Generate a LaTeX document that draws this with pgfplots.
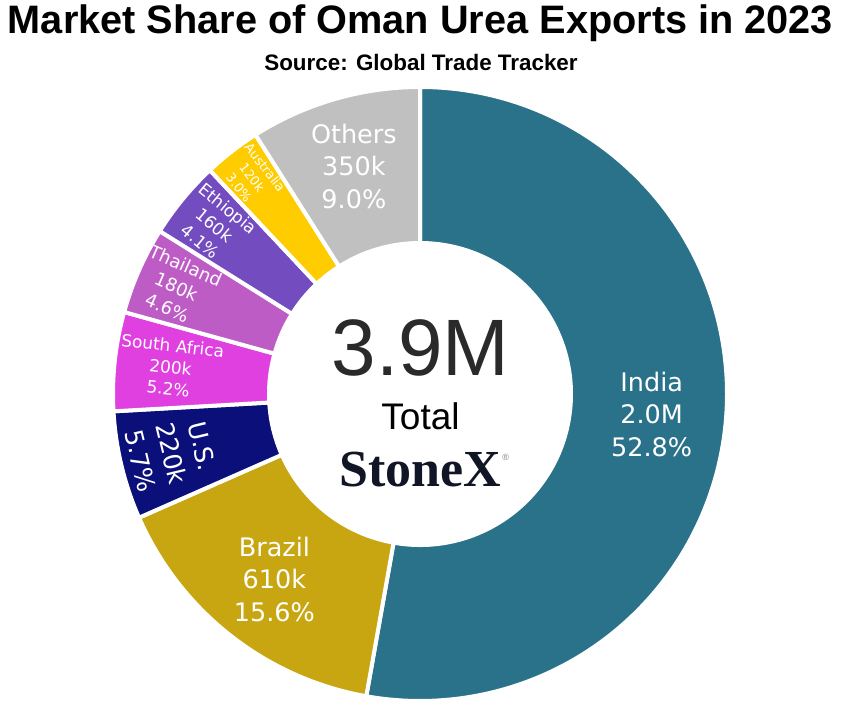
\documentclass[border=0pt]{standalone}
\usepackage{pgfplots}
\pgfplotsset{compat=1.18}
\usepackage{pgfplotstable}
\usepackage{fontspec}
\setmainfont{DejaVu Sans}
\newfontfamily\arialfont{Liberation Sans}
\newfontfamily\logofont{Liberation Serif}

\definecolor{cIndia}{HTML}{29728A}
\definecolor{cBrazil}{HTML}{C8A612}
\definecolor{cUS}{HTML}{0A0F7A}
\definecolor{cSA}{HTML}{E040E0}
\definecolor{cTH}{HTML}{BE5CC6}
\definecolor{cET}{HTML}{734CBF}
\definecolor{cAU}{HTML}{FFCC00}
\definecolor{cOT}{HTML}{C0C0C0}

% name, amount label, share (%), colour, label rotation, label radius (fraction of outer), label font size
\pgfplotstableread[col sep=comma]{
name,amount,share,col,rot,lr,fs
India,2.0M,52.8,cIndia,0,0.76,25.5
Brazil,610k,15.6,cBrazil,0,0.77,25.5
U.S.,220k,5.7,cUS,-76.5,0.835,25
South Africa,200k,5.2,cSA,-6.1,0.82,17
Thailand,180k,4.6,cTH,-23.8,0.87,18
Ethiopia,160k,4.1,cET,-39.4,0.87,17
Australia,120k,3.0,cAU,-52.2,0.895,12.9
Others,350k,9.0,cOT,0,0.775,25.5
}\datatable

\begin{document}
\begin{tikzpicture}
\path[fill=white] (0,0) rectangle (841pt,712pt);
\begin{axis}[
  hide axis, scale only axis, width=612pt, height=612pt,
  xmin=-1, xmax=1, ymin=-1, ymax=1,
  at={(420pt,318pt)}, anchor=center, clip=false]
\addplot[draw=none] coordinates {(0,0)};
\pgfplotstablegetrowsof{\datatable}
\pgfmathtruncatemacro\N{\pgfplotsretval-1}
\def\cum{90}
\pgfplotsforeachungrouped \i in {0,...,\N}{%
  \pgfplotstablegetelem{\i}{share}\of\datatable \let\sh\pgfplotsretval
  \pgfplotstablegetelem{\i}{name}\of\datatable \let\nm\pgfplotsretval
  \pgfplotstablegetelem{\i}{amount}\of\datatable \let\am\pgfplotsretval
  \pgfplotstablegetelem{\i}{col}\of\datatable \let\cl\pgfplotsretval
  \pgfplotstablegetelem{\i}{rot}\of\datatable \let\rt\pgfplotsretval
  \pgfplotstablegetelem{\i}{lr}\of\datatable \let\lr\pgfplotsretval
  \pgfplotstablegetelem{\i}{fs}\of\datatable \let\fs\pgfplotsretval
  \pgfmathsetmacro\a{\cum}%
  \pgfmathsetmacro\b{\cum-3.6*\sh}%
  \pgfmathsetmacro\m{(\a+\b)/2}%
  \pgfmathsetmacro\lrad{\lr*306}%
  \pgfmathsetmacro\lsp{1.27*\fs}%
  \edef\temp{\noexpand\fill[fill=\cl, draw=white, line width=4pt, shift={(axis cs:0,0)}]
     (\a:307pt) arc[start angle=\a, end angle=\b, radius=307pt]
     -- (\b:151pt) arc[start angle=\b, end angle=\a, radius=151pt] -- cycle;
     \noexpand\node[shift={(axis cs:0,0)}, rotate=\rt, text=white, align=center,
       font=\noexpand\fontsize{\fs}{\lsp}\noexpand\selectfont, inner sep=0pt]
       at (\m:\lrad pt) {\nm\noexpand\\\am\noexpand\\\sh\noexpand\%};}%
  \temp
  \let\cum\b
}
\end{axis}
% centre texts
\node[anchor=base, text={rgb,255:red,42;green,42;blue,42}, font=\arialfont\fontsize{80}{90}\selectfont, inner sep=0pt] at (420.5pt,336pt) {3.9M};
\node[anchor=base, text=black, font=\arialfont\fontsize{37}{40}\selectfont, inner sep=0pt] at (420.5pt,282pt) {Total};
\node[anchor=base, text={rgb,255:red,17;green,22;blue,38}, font=\logofont\bfseries\fontsize{52}{56}\selectfont, inner sep=0pt] (logo) at (420pt,225pt) {StoneX};
\node[anchor=north west, text=gray, font=\arialfont\fontsize{9}{10}\selectfont, inner sep=0pt] at ([xshift=1pt,yshift=-2pt]logo.north east) {\textregistered};
% titles
\node[anchor=base, font=\arialfont\bfseries\fontsize{39.7}{44}\selectfont, inner sep=0pt] at (420.5pt,678pt) {Market Share of Oman Urea Exports in 2023};
\node[anchor=base, font=\arialfont\bfseries\fontsize{22.4}{26}\selectfont, inner sep=0pt] at (421pt,641pt) {Source: Global Trade Tracker};
\pgfresetboundingbox
\path (0,0) rectangle (841pt,712pt);
\end{tikzpicture}
\end{document}
